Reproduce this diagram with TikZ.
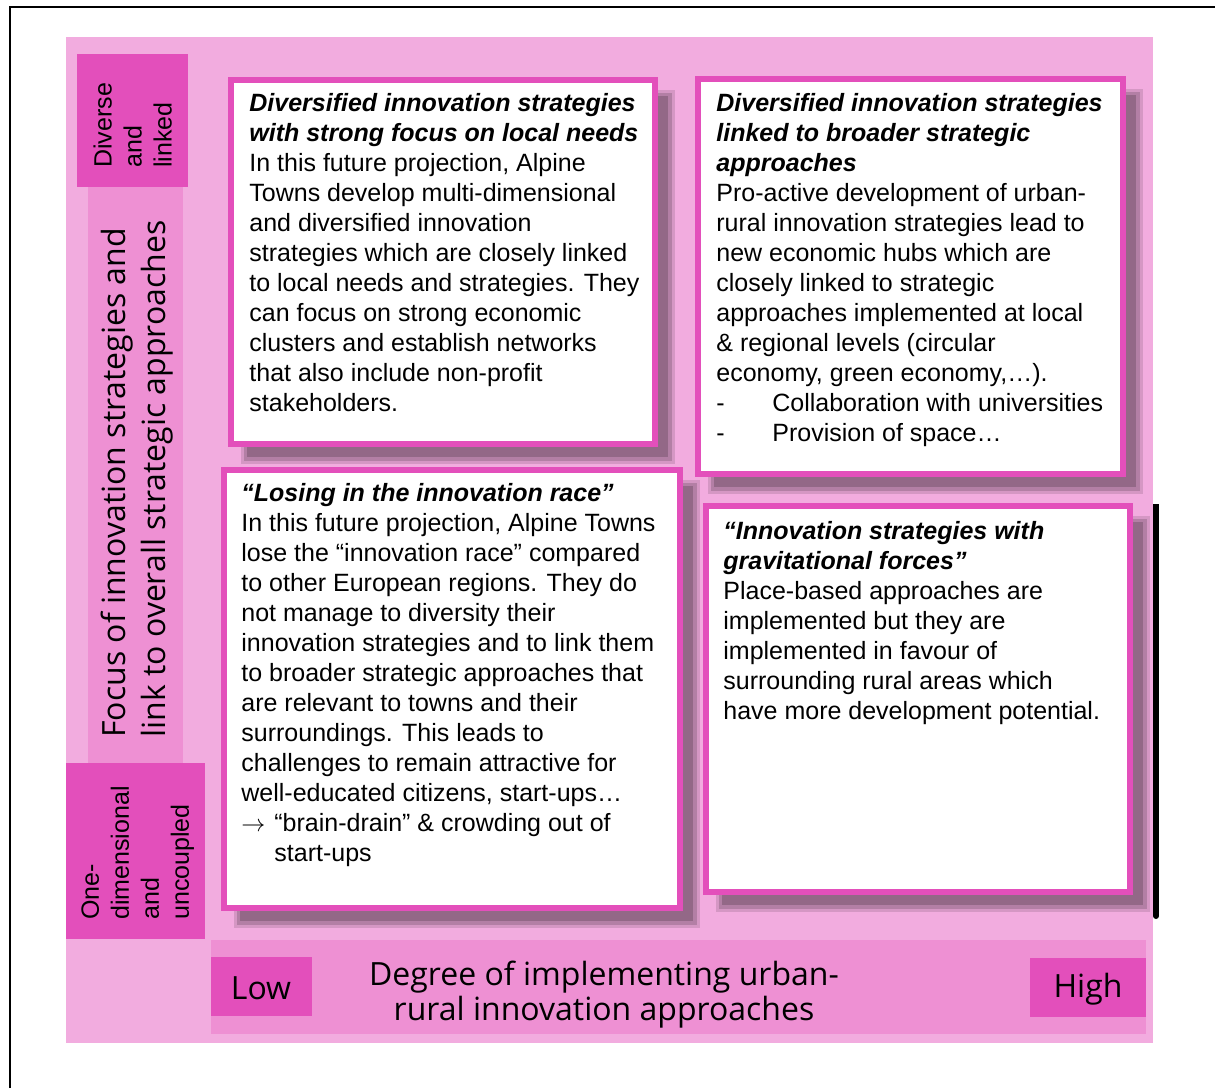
\documentclass[tikz,border=0pt]{standalone}
\usepackage{fontspec}
\setmainfont{Liberation Sans}
\newfontfamily\axisfont{Open Sans}
\usetikzlibrary{positioning}

\definecolor{bgpink}{HTML}{F2ACDF}
\definecolor{midpink}{HTML}{EE90D3}
\definecolor{darkpink}{HTML}{E34FBB}
\definecolor{shadowpink}{HTML}{936887}

\begin{document}
\begin{tikzpicture}[x=0.5pt,y=-0.5pt,
	card/.style={draw=darkpink,line width=3pt,fill=white},
	cardtext/.style={anchor=north west,inner sep=0pt,align=left,font=\fontsize{12.5pt}{15pt}\selectfont},
	sidetext/.style={anchor=north west,inner sep=0pt,align=left,rotate=90,font=\fontsize{12.5pt}{15pt}\selectfont},
	axistext/.style={inner sep=0pt,align=center,font=\axisfont\fontsize{16pt}{17.5pt}\selectfont}]
		\useasboundingbox (0,0) rectangle (1215,1088);
		\fill [white] (0,0) rectangle (1215,1088);
		\draw [line width=1.2pt] (10,1088) to (10,7) to (1215,7); % frame
		\fill [bgpink] (66,37) rectangle (1153,1043);
		% left axis
		\fill [midpink] (88,187) rectangle (183,763);
		\fill [darkpink] (77,54) rectangle (188,187);
		\fill [darkpink] (66,763) rectangle (205,939);
		% bottom axis
		\fill [midpink] (211,940) rectangle (1146,1034);
		\fill [darkpink] (211,957) rectangle (312,1016);
		\fill [darkpink] (1030,958) rectangle (1146,1017);
		\draw [line width=3pt] (1156,504) to (1156,912);
		\draw [line width=3pt,line cap=round] (1156,900) to (1156,916);
		% shadows
		\foreach \a/\b/\c/\d in {231/80/655/444, 698/79/1123/474, 224/470/680/908, 706/506/1130/892} {
			\fill [shadowpink,opacity=.3] (\a+10,\b+10) rectangle (\c+20,\d+20);
			\fill [shadowpink,opacity=.5] (\a+13,\b+13) rectangle (\c+17,\d+17);
			\fill [shadowpink] (\a+16,\b+16) rectangle (\c+13,\d+13);
		}
		% cards
		\draw [card] (231,80) rectangle (655,444);
		\draw [card] (698,79) rectangle (1123,474);
		\draw [card] (224,470) rectangle (680,908);
		\draw [card] (706,506) rectangle (1130,892);
		\node [cardtext] (local) at (249,93) {\textbf{\textit{Diversified innovation strategies}}\\
			\textbf{\textit{with strong focus on local needs}}\\
			In this future projection, Alpine\\
			Towns develop multi-dimensional\\
			and diversified innovation\\
			strategies which are closely linked\\
			to local needs and strategies. They\\
			can focus on strong economic\\
			clusters and establish networks\\
			that also include non-profit\\
			stakeholders.};
		\node [cardtext] (broader) at (716,93) {\textbf{\textit{Diversified innovation strategies}}\\
			\textbf{\textit{linked to broader strategic}}\\
			\textbf{\textit{approaches}}\\
			Pro-active development of urban-\\
			rural innovation strategies lead to\\
			new economic hubs which are\\
			closely linked to strategic\\
			approaches implemented at local\\
			\& regional levels (circular\\
			economy, green economy,…).\\
			\makebox[28pt][l]{-}Collaboration with universities\\
			\makebox[28pt][l]{-}Provision of space…};
		\node [cardtext] (losing) at (241,483) {\textbf{\textit{“Losing in the innovation race”}}\\
			In this future projection, Alpine Towns\\
			lose the “innovation race” compared\\
			to other European regions. They do\\
			not manage to diversity their\\
			innovation strategies and to link them\\
			to broader strategic approaches that\\
			are relevant to towns and their\\
			surroundings. This leads to\\
			challenges to remain attractive for\\
			well-educated citizens, start-ups…\\
			\makebox[16.5pt][l]{$\rightarrow$}“brain-drain” \& crowding out of\\
			\hspace*{16.5pt}start-ups};
		\node [cardtext] (gravity) at (723,521) {\textbf{\textit{“Innovation strategies with}}\\
			\textbf{\textit{gravitational forces”}}\\
			Place-based approaches are\\
			implemented but they are\\
			implemented in favour of\\
			surrounding rural areas which\\
			have more development potential.};
		% axis labels
		\node [sidetext] (diverse) at (93,168) {Diverse\\and\\linked};
		\node [sidetext] (onedim) at (81,920) {One-\\dimensional\\and\\uncoupled};
		\node [axistext,align=left,rotate=90,font=\axisfont\fontsize{16pt}{20pt}\selectfont] (focus) at (137,479) {Focus of innovation strategies and\\link to overall strategic approaches};
		\node [axistext] (degree) at (604,995) {Degree of implementing urban-\\rural innovation approaches};
		\node [axistext] (low) at (261,988) {Low};
		\node [axistext] (high) at (1088,989) {High};
\end{tikzpicture}
\end{document}
